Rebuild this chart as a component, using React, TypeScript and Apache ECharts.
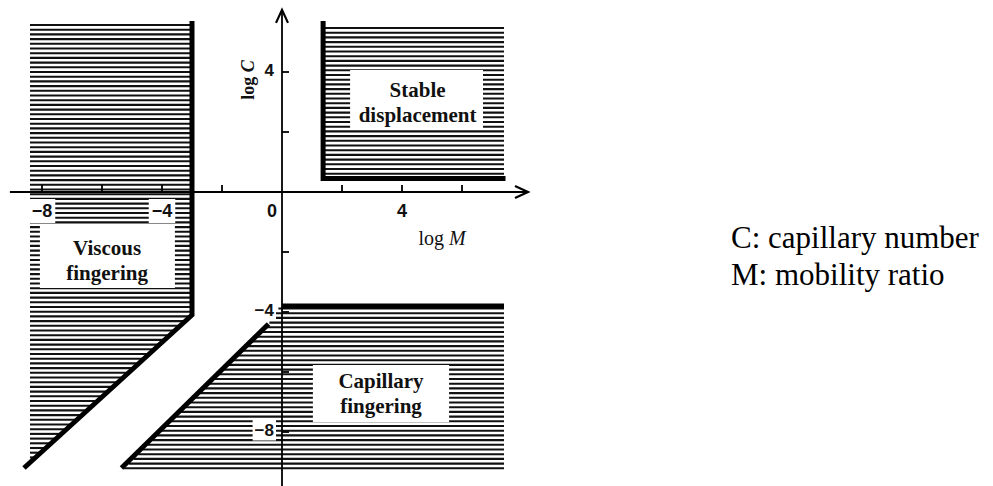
import React, { useEffect, useRef } from "react";
import * as echarts from "echarts";

// Axis extents (log M horizontally, log C vertically)
const X_MIN = -9.4;
const X_MAX = 23.7;
const Y_MIN = -9.8;
const Y_MAX = 6.4;

const xAxisLine = [[-9.07, 0], [8.2, 0]];
const yAxisLine = [[0, -10.5], [0, 6.07]];
const xTicks = [-8, -6, -4, -2, 2, 4, 6];
const yTicks = [4, 2, -2, -4, -6, -8];
const xTickValues = [-8, -4, 0, 4];
const xTickTexts = ["−8", "−4", "0", "4"];
const yTickValues = [4, -4, -8];
const yTickTexts = ["4", "−4", "−8"];

// Phase boundaries (thick lines)
const viscousBoundary = [[-3, 5.7], [-3, -4.1], [-8.6, -9.2]];
const capillaryDiagonal = [[-0.45, -4.4], [-5.35, -9.2]];
const capillaryTop = [[0, -3.8], [7.4, -3.8]];
const stableBoundary = [[1.37, 5.7], [1.37, 0.45], [7.45, 0.45]];

// Hatched regions
const viscousHatch = [[-8.4, 5.6], [-3, 5.6], [-3, -4.1], [-8.4, -9.0]];
const capillaryHatch = [[-5.3, -9.25], [-0.45, -4.4], [-0.1, -3.85], [7.4, -3.85], [7.4, -9.25]];
const stableHatch = [[1.37, 5.5], [7.4, 5.5], [7.4, 0.45], [1.37, 0.45]];

// Region labels
const regionNames = ["Stable\ndisplacement", "Viscous\nfingering", "Capillary\nfingering"];
const regionCenters = [[4.52, 3.0], [-5.83, -2.27], [3.3, -6.73]];
const regionBoxes = [
  [[2.27, 4.07], [6.7, 2.07]],
  [[-8.07, -1.1], [-3.57, -3.2]],
  [[1.03, -5.77], [5.57, -7.67]],
];

const notes = ["C: capillary number", "M: mobility ratio"];

function hatchChildren(poly: number[][], api: any, spacing: number) {
  const pts = poly.map((p) => api.coord(p));
  const ys = pts.map((p: number[]) => p[1]);
  const top = Math.min(...ys);
  const bot = Math.max(...ys);
  const children: any[] = [];
  for (let y = top + 1; y <= bot; y += spacing) {
    const xs: number[] = [];
    for (let i = 0; i < pts.length; i++) {
      const a = pts[i];
      const b = pts[(i + 1) % pts.length];
      if ((a[1] <= y && b[1] > y) || (b[1] <= y && a[1] > y)) {
        const t = (y - a[1]) / (b[1] - a[1]);
        xs.push(a[0] + t * (b[0] - a[0]));
      }
    }
    xs.sort((m, n) => m - n);
    for (let k = 0; k + 1 < xs.length; k += 2) {
      children.push({
        type: "line",
        shape: { x1: xs[k], y1: y, x2: xs[k + 1], y2: y },
        style: { stroke: "#111", lineWidth: 2.1 },
      });
    }
  }
  return children;
}

const hatchSeries = (poly: number[][]) => ({
  type: "custom",
  data: [[0, 0]],
  silent: true,
  z: 1,
  renderItem: (_p: any, api: any) => ({ type: "group", children: hatchChildren(poly, api, 4.7) }),
});

const lineSeries = (data: number[][], width: number, z: number) => ({
  type: "line",
  data,
  symbol: "none",
  silent: true,
  z,
  lineStyle: { color: "#000", width, cap: "butt", join: "miter" },
});

export default function App() {
  const ref = useRef<HTMLDivElement>(null);
  useEffect(() => {
    if (!ref.current) return;
    const chart = echarts.init(ref.current, undefined, { renderer: "svg" });
    const serif = '"Liberation Serif", "Times New Roman", serif';
    const sans = '"Liberation Sans", Arial, sans-serif';
    chart.setOption({
      animation: false,
      grid: { left: 0, right: 0, top: 0, bottom: 0 },
      xAxis: { type: "value", min: X_MIN, max: X_MAX, show: false },
      yAxis: { type: "value", min: Y_MIN, max: Y_MAX, show: false },
      series: [
        hatchSeries(viscousHatch),
        hatchSeries(capillaryHatch),
        hatchSeries(stableHatch),
        // white label boxes + labels
        {
          type: "custom",
          silent: true,
          z: 3,
          data: regionNames.map((_, i) => [i, 0]),
          renderItem: (_p: any, api: any) => {
            const i = api.value(0);
            const a = api.coord(regionBoxes[i][0]);
            const b = api.coord(regionBoxes[i][1]);
            const c = api.coord(regionCenters[i]);
            return {
              type: "group",
              children: [
                {
                  type: "rect",
                  shape: { x: a[0], y: a[1], width: b[0] - a[0], height: b[1] - a[1] },
                  style: { fill: "#fff" },
                },
                {
                  type: "text",
                  x: c[0],
                  y: c[1],
                  style: {
                    text: regionNames[i],
                    font: `bold 21px ${serif}`,
                    fill: "#111",
                    textAlign: "center",
                    textVerticalAlign: "middle",
                    align: "center",
                    verticalAlign: "middle",
                    lineHeight: 25,
                  },
                },
              ],
            };
          },
        },
        lineSeries(viscousBoundary, 5, 5),
        lineSeries(capillaryDiagonal, 5, 5),
        lineSeries(capillaryTop, 5, 5),
        lineSeries(stableBoundary, 5, 5),
        lineSeries(xAxisLine, 1.8, 6),
        lineSeries(yAxisLine, 1.8, 6),
        // arrowheads
        {
          type: "custom",
          silent: true,
          z: 6,
          data: [
            [xAxisLine[1][0], xAxisLine[1][1], 0],
            [yAxisLine[1][0], yAxisLine[1][1], 1],
          ],
          renderItem: (_p: any, api: any) => {
            const p = api.coord([api.value(0), api.value(1)]);
            const horiz = api.value(2) === 0;
            const pts = horiz
              ? [[p[0] - 13, p[1] - 6], [p[0], p[1]], [p[0] - 13, p[1] + 6]]
              : [[p[0] - 6, p[1] + 13], [p[0], p[1]], [p[0] + 6, p[1] + 13]];
            return { type: "polyline", shape: { points: pts }, style: { stroke: "#000", lineWidth: 2.2, fill: null } };
          },
        },
        // x ticks
        {
          type: "custom",
          silent: true,
          z: 6,
          data: xTicks.map((v) => [v, 0]),
          renderItem: (_p: any, api: any) => {
            const p = api.coord([api.value(0), 0]);
            return { type: "line", shape: { x1: p[0], y1: p[1], x2: p[0], y2: p[1] - 7 }, style: { stroke: "#000", lineWidth: 1.8 } };
          },
        },
        // y ticks
        {
          type: "custom",
          silent: true,
          z: 6,
          data: yTicks.map((v) => [0, v]),
          renderItem: (_p: any, api: any) => {
            const p = api.coord([0, api.value(1)]);
            return { type: "line", shape: { x1: p[0], y1: p[1], x2: p[0] + 7, y2: p[1] }, style: { stroke: "#000", lineWidth: 1.8 } };
          },
        },
        // x tick labels
        {
          type: "custom",
          silent: true,
          z: 4,
          data: xTickValues.map((v, i) => [v, 0, i]),
          renderItem: (_p: any, api: any) => {
            const i = api.value(2);
            const p = api.coord([api.value(0), 0]);
            const isZero = api.value(0) === 0;
            return {
              type: "text",
              x: isZero ? p[0] - 10 : p[0],
              y: p[1] + 19,
              style: {
                text: xTickTexts[i],
                font: `bold 18px ${sans}`,
                fill: "#111",
                textAlign: "center",
                textVerticalAlign: "middle",
                align: "center",
                verticalAlign: "middle",
                backgroundColor: isZero ? "transparent" : "#fff",
                padding: [3, 3, 3, 3],
              },
            };
          },
        },
        // y tick labels
        {
          type: "custom",
          silent: true,
          z: 4,
          data: yTickValues.map((v, i) => [0, v, i]),
          renderItem: (_p: any, api: any) => {
            const i = api.value(2);
            const p = api.coord([0, api.value(1)]);
            return {
              type: "text",
              x: p[0] - 6,
              y: p[1] - 2,
              style: {
                text: yTickTexts[i],
                font: `bold 17px ${sans}`,
                fill: "#111",
                textAlign: "right",
                textVerticalAlign: "middle",
                align: "right",
                verticalAlign: "middle",
                backgroundColor: "#fff",
                padding: [2, 2, 2, 2],
              },
            };
          },
        },
      ],
      graphic: [
        {
          type: "text",
          x: 248,
          y: 80,
          rotation: Math.PI / 2,
          style: {
            text: "{a|log }{b|C}",
            fill: "#111",
            textAlign: "center",
            textVerticalAlign: "middle",
            align: "center",
            verticalAlign: "middle",
            rich: {
              a: { font: `bold 18px ${serif}`, fill: "#111" },
              b: { font: `italic bold 18px ${serif}`, fill: "#111" },
            },
          },
          z: 10,
        },
        {
          type: "text",
          x: 442,
          y: 238,
          style: {
            text: "{a|log }{b|M}",
            fill: "#111",
            textAlign: "center",
            textVerticalAlign: "middle",
            align: "center",
            verticalAlign: "middle",
            rich: {
              a: { font: `20px ${serif}`, fill: "#111" },
              b: { font: `italic 20px ${serif}`, fill: "#111" },
            },
          },
          z: 10,
        },
        {
          type: "text",
          x: 731,
          y: 237,
          style: { text: notes[0], font: `31px ${serif}`, fill: "#000", textVerticalAlign: "middle", verticalAlign: "middle" },
          z: 10,
        },
        {
          type: "text",
          x: 731,
          y: 274,
          style: { text: notes[1], font: `31px ${serif}`, fill: "#000", textVerticalAlign: "middle", verticalAlign: "middle" },
          z: 10,
        },
      ],
    });
    return () => chart.dispose();
  }, []);
  return (
    <div
      ref={ref}
      style={{ position: "fixed", left: 0, top: 0, width: 993, height: 486, background: "#fff" }}
    />
  );
}
